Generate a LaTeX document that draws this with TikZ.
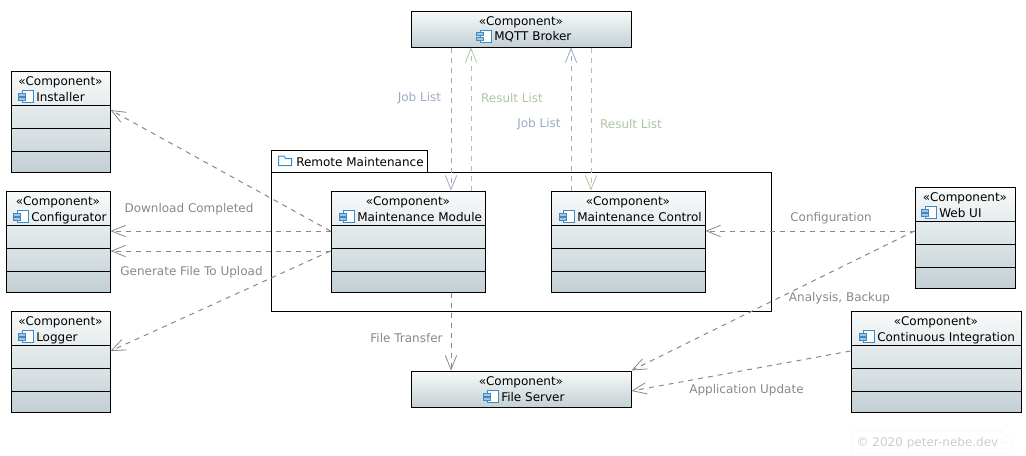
\documentclass[tikz,border=0pt]{standalone}
\usepackage{fontspec}
\setmainfont{DejaVu Sans}
\usetikzlibrary{arrows.meta,calc,shapes.misc}
\definecolor{boxtop}{HTML}{F8FAFA}
\definecolor{boxbottom}{HTML}{C3D0D5}
\definecolor{iconblue}{HTML}{3F8AC4}
\definecolor{icontab}{HTML}{A5C6E0}
\definecolor{jobblue}{HTML}{9AA8C6}
\definecolor{resultgreen}{HTML}{AEC4A4}
\definecolor{linkgray}{HTML}{888888}
\tikzset{
    x=0.75pt, y=-0.75pt,
    every node/.style={font=\fontsize{9pt}{11pt}\selectfont, inner sep=0pt},
    compbox/.style={draw=black, line width=0.75pt, top color=boxtop, bottom color=boxbottom, rectangle},
    complabel/.style={text=black, anchor=base},
    link/.style={draw=linkgray, line width=0.75pt, dash pattern=on 3.75pt off 3.75pt, -{Straight Barb[length=10.5pt,width=8.5pt,line width=0.6pt]}},
    joblink/.style={link, draw=jobblue},
    resultlink/.style={link, draw=resultgreen},
    linktext/.style={text=linkgray},
    jobtext/.style={text=jobblue},
    resulttext/.style={text=resultgreen},
}
% component icon, left edge at the given point
\newcommand{\compicon}[1]{
    \draw[iconblue, line width=0.75pt, fill=white] ($(#1)+(4,-6)$) rectangle ($(#1)+(15,6)$);
    \filldraw[draw=iconblue, line width=0.5pt, fill=icontab] ($(#1)+(0,-3.5)$) rectangle ($(#1)+(7,-0.5)$);
    \filldraw[draw=iconblue, line width=0.5pt, fill=icontab] ($(#1)+(0,1)$) rectangle ($(#1)+(7,4)$);
}
\begin{document}
\begin{tikzpicture}
    \useasboundingbox (0, 0) rectangle (1026, 455);

    % Package
    \node[draw=black, line width=0.75pt, fill=white, minimum width=375pt, minimum height=104.25pt] (package) at (521, 241.5) {};
    \node[draw=black, line width=0.75pt, fill=white, minimum width=117pt, minimum height=16.5pt] (packagetab) at (349, 161) {};
    \node[complabel, anchor=base west] (packagetitle) at (296, 166) {Remote Maintenance};
    \draw[iconblue, line width=0.75pt, fill=white] (278.5, 158.5) -- (278.5, 156) -- (284, 156) -- (285.5, 158.5) -- (291.5, 158.5) -- (291.5, 165.5) -- (278.5, 165.5) -- cycle;

    % Components with three compartments
    \foreach \id/\cx/\cy/\w/\title/\titlex in {
        installer/60.5/121.5/99/Installer/36,
        configurator/58/241.5/104/Configurator/31,
        logger/60.5/361.5/99/Logger/36,
        module/408/241.5/154/Maintenance Module/357,
        control/628/241.5/154/Maintenance Control/577,
        webui/965/237.5/100/Web UI/939,
        integration/936/361.5/170/Continuous Integration/877} {
        \pgfmathsetmacro{\bw}{\w*0.75}
        \node[compbox, minimum width=\bw pt, minimum height=75.75pt] (\id) at (\cx, \cy) {};
        \node[complabel] (\id stereo) at ($(\id.north)+(0, 14.5)$) {«Component»};
        \node[complabel, anchor=base west] (\id title) at (\titlex, \cy-20.5) {\title};
        \coordinate (\id icon) at (\titlex-18, \cy-25);
        \compicon{\id icon}
        \draw[black, line width=0.75pt] ($(\id.north west)+(0, 34.5)$) -- ($(\id.north east)+(0, 34.5)$);
        \draw[black, line width=0.75pt] ($(\id.north west)+(0, 57.5)$) -- ($(\id.north east)+(0, 57.5)$);
        \draw[black, line width=0.75pt] ($(\id.north west)+(0, 80.5)$) -- ($(\id.north east)+(0, 80.5)$);
    }

    % Components with header only
    \foreach \id/\cy/\title/\titlex/\base in {broker/29/MQTT Broker/494/40.5, fileserver/389/File Server/501/401} {
        \node[compbox, minimum width=165pt, minimum height=27pt] (\id) at (521, \cy) {};
        \node[complabel] (\id stereo) at ($(\id.north)+(0, 14.5)$) {«Component»};
        \node[complabel, anchor=base west] (\id title) at (\titlex, \base) {\title};
        \coordinate (\id icon) at (\titlex-18, \base-4.5);
        \compicon{\id icon}
    }

    % Module links
    \draw[link] ($(module.west)+(0, -10.5)$) -- ($(installer.east)+(0, -11.5)$);
    \draw[link] ($(module.west)+(0, -10.5)$) -- ($(configurator.east)+(0, -10.5)$);
    \draw[link] ($(module.west)+(0, 9.5)$) -- ($(configurator.east)+(0, 9.5)$);
    \draw[link] ($(module.west)+(0, 9.5)$) -- ($(logger.east)+(0, -10.5)$);
    \draw[link] ($(module.south)+(43, 0)$) -- ($(fileserver.north)+(-70, 0)$);

    % Broker links
    \draw[joblink] ($(broker.south)+(-70, 0)$) -- ($(module.north)+(43, 0)$);
    \draw[resultlink] ($(module.north)+(63, 0)$) -- ($(broker.south)+(-50, 0)$);
    \draw[joblink] ($(control.north)+(-57, 0)$) -- ($(broker.south)+(50, 0)$);
    \draw[resultlink] ($(broker.south)+(70, 0)$) -- ($(control.north)+(-37, 0)$);

    % Web UI and integration links
    \draw[link] ($(webui.west)+(0, -6.5)$) -- ($(control.east)+(0, -10.5)$);
    \draw[link] ($(webui.west)+(0, -6.5)$) -- ($(fileserver.north east)$);
    \draw[link] ($(integration.west)+(0, -10.5)$) -- ($(fileserver.east)+(0, 2)$);

    % Labels
    \node[jobtext] (joblabela) at (419.5, 98.5) {Job List};
    \node[resulttext] (resultlabela) at (512, 98.5) {Result List};
    \node[jobtext] (joblabelb) at (539, 124.5) {Job List};
    \node[resulttext] (resultlabelb) at (631, 124.5) {Result List};
    \node[linktext] (downloadlabel) at (189, 209.5) {Download Completed};
    \node[linktext] (generatelabel) at (191.5, 272.5) {Generate File To Upload};
    \node[linktext] (transferlabel) at (406.5, 338.5) {File Transfer};
    \node[linktext] (configlabel) at (831, 218.5) {Configuration};
    \node[linktext] (backuplabel) at (839.5, 298.5) {Analysis, Backup};
    \node[linktext] (updatelabel) at (746.5, 390.5) {Application Update};

    % Copyright note
    \draw[black!3, line width=0.6pt] (852, 430) -- (1001, 430) -- (1013, 442) -- (1013, 453) -- (852, 453) -- cycle;
    \draw[black!3, line width=0.6pt] (1001, 430) -- (1001, 442) -- (1013, 442);
    \node[text=black!20] (copyright) at (927.5, 443.5) {© 2020 peter-nebe.dev};
\end{tikzpicture}
\end{document}
